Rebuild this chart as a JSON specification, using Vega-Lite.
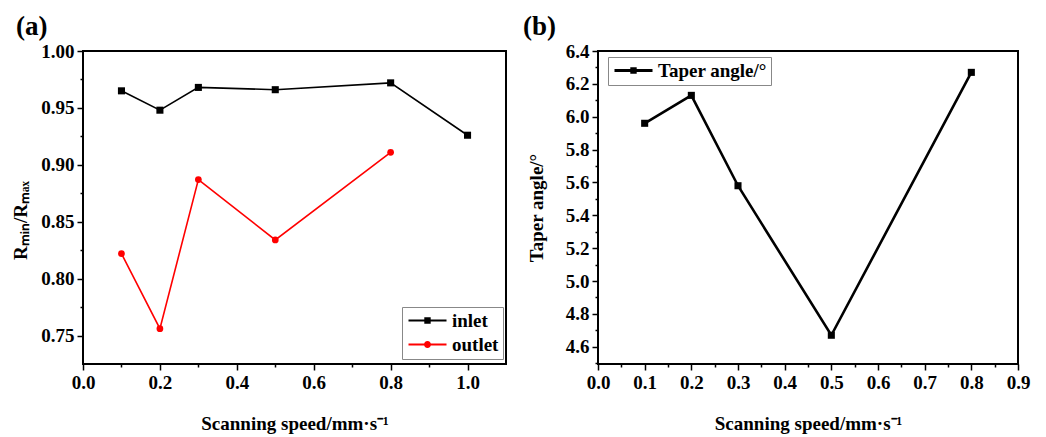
{
  "$schema": "https://vega.github.io/schema/vega-lite/v6.json",
  "background": "white",
  "padding": {"left": 10, "top": 12, "right": 5, "bottom": 5},
  "spacing": 15,
  "resolve": {"scale": {"color": "independent", "shape": "independent"}, "legend": {"color": "independent", "shape": "independent"}},
  "config": {
    "font": "Liberation Serif",
    "view": {"stroke": "black", "strokeWidth": 2},
    "axis": {
      "labelFont": "Liberation Serif", "labelFontWeight": "bold", "labelFontSize": 19, "labelColor": "black",
      "titleFont": "Liberation Serif", "titleFontWeight": "bold", "titleFontSize": 19, "titleColor": "black",
      "domain": false, "grid": false, "tickColor": "black", "tickWidth": 1.5, "labelPadding": 3,
      "labelOverlap": false, "labelFlush": false
    },
    "legend": {
      "labelFont": "Liberation Serif", "labelFontWeight": "bold", "labelFontSize": 19, "labelColor": "black",
      "strokeColor": "#888888", "fillColor": "white", "padding": 4, "symbolStrokeWidth": 0, "symbolOpacity": 1,
      "labelOffset": 27, "symbolSize": 196, "rowPadding": 4
    }
  },
  "datasets": {
    "ratio": [
      {"speed": 0.1, "ratio": 0.965, "position": "inlet"},
      {"speed": 0.2, "ratio": 0.948, "position": "inlet"},
      {"speed": 0.3, "ratio": 0.968, "position": "inlet"},
      {"speed": 0.5, "ratio": 0.966, "position": "inlet"},
      {"speed": 0.8, "ratio": 0.972, "position": "inlet"},
      {"speed": 1.0, "ratio": 0.926, "position": "inlet"},
      {"speed": 0.1, "ratio": 0.822, "position": "outlet"},
      {"speed": 0.2, "ratio": 0.756, "position": "outlet"},
      {"speed": 0.3, "ratio": 0.887, "position": "outlet"},
      {"speed": 0.5, "ratio": 0.834, "position": "outlet"},
      {"speed": 0.8, "ratio": 0.911, "position": "outlet"}
    ],
    "taper": [
      {"speed": 0.1, "angle": 5.96, "series": "Taper angle/°"},
      {"speed": 0.2, "angle": 6.13, "series": "Taper angle/°"},
      {"speed": 0.3, "angle": 5.58, "series": "Taper angle/°"},
      {"speed": 0.5, "angle": 4.67, "series": "Taper angle/°"},
      {"speed": 0.8, "angle": 6.27, "series": "Taper angle/°"}
    ]
  },
  "hconcat": [
    {
      "width": 423, "height": 313,
      "title": {"text": "(a)", "anchor": "start", "frame": "group", "dx": -67, "offset": 1, "fontSize": 27, "font": "Liberation Serif", "fontWeight": "bold", "color": "black"},
      "data": {"name": "ratio"},
      "encoding": {
        "x": {"field": "speed", "type": "quantitative",
          "scale": {"domain": [0, 1.1], "nice": false, "zero": false},
          "axis": {"title": "Scanning speed/mm·s⁻¹", "titlePadding": 22,
            "values": [0, 0.1, 0.2, 0.3, 0.4, 0.5, 0.6, 0.7, 0.8, 0.9, 1.0],
            "labelExpr": "round(datum.value*10)%2==0 ? format(datum.value, '.1f') : ''",
            "tickSize": {"condition": {"test": "round(datum.value*10)%2==0", "value": 6}, "value": 3}}},
        "y": {"field": "ratio", "type": "quantitative",
          "scale": {"domain": [0.725, 1.0], "nice": false, "zero": false},
          "axis": {"title": "Rₘᵢₙ/Rₘₐₓ", "titlePadding": 10, "titleY": 169,
            "values": [0.75, 0.775, 0.8, 0.825, 0.85, 0.875, 0.9, 0.925, 0.95, 0.975, 1.0],
            "labelExpr": "abs(datum.value*20 - round(datum.value*20)) < 0.01 ? format(datum.value, '.2f') : ''",
            "tickSize": {"condition": {"test": "abs(datum.value*20 - round(datum.value*20)) < 0.01", "value": 6}, "value": 3}}}
      },
      "layer": [
        {"transform": [{"filter": "datum.position == 'inlet'"}],
         "mark": {"type": "line", "strokeWidth": 1.6, "color": "#000000"}},
        {"transform": [{"filter": "datum.position == 'outlet'"}],
         "mark": {"type": "line", "strokeWidth": 1.6, "color": "#ff0000"}},
        {"transform": [{"filter": "datum.position == 'inlet'"}],
         "mark": {"type": "point", "shape": "square", "filled": true, "size": 50, "opacity": 1, "color": "#000000"}},
        {"transform": [{"filter": "datum.position == 'outlet'"}],
         "mark": {"type": "point", "shape": "circle", "filled": true, "size": 45, "opacity": 1, "color": "#ff0000"}},
        {"mark": {"type": "point", "filled": true, "opacity": 0},
         "encoding": {
           "color": {"field": "position", "type": "nominal",
             "scale": {"domain": ["inlet", "outlet"], "range": ["#000000", "#ff0000"]},
             "legend": {"title": null, "orient": "none", "legendX": 319, "legendY": 256}},
           "shape": {"field": "position", "type": "nominal",
             "scale": {"domain": ["inlet", "outlet"], "range": [
               "M-1,-0.157H4.43V0.157H-1Z M1.257,-0.457H2.171V0.457H1.257Z",
               "M-1,-0.157H4.43V0.157H-1Z M2.214,0A0.5,0.5 0 1,1 1.214,0A0.5,0.5 0 1,1 2.214,0Z"]},
             "legend": {"title": null, "orient": "none", "legendX": 319, "legendY": 256}}
         }}
      ]
    },
    {
      "width": 420, "height": 313,
      "title": {"text": "(b)", "anchor": "start", "frame": "group", "dx": -75, "offset": 1, "fontSize": 27, "font": "Liberation Serif", "fontWeight": "bold", "color": "black"},
      "data": {"name": "taper"},
      "encoding": {
        "x": {"field": "speed", "type": "quantitative",
          "scale": {"domain": [0, 0.9], "nice": false, "zero": false},
          "axis": {"title": "Scanning speed/mm·s⁻¹", "titlePadding": 22,
            "values": [0, 0.05, 0.1, 0.15, 0.2, 0.25, 0.3, 0.35, 0.4, 0.45, 0.5, 0.55, 0.6, 0.65, 0.7, 0.75, 0.8, 0.85, 0.9],
            "labelExpr": "abs(datum.value*10 - round(datum.value*10)) < 0.01 ? format(datum.value, '.1f') : ''",
            "tickSize": {"condition": {"test": "abs(datum.value*10 - round(datum.value*10)) < 0.01", "value": 6}, "value": 3}}},
        "y": {"field": "angle", "type": "quantitative",
          "scale": {"domain": [4.495, 6.4], "nice": false, "zero": false},
          "axis": {"title": "Taper angle/°", "titlePadding": 19,
            "values": [4.5, 4.6, 4.7, 4.8, 4.9, 5.0, 5.1, 5.2, 5.3, 5.4, 5.5, 5.6, 5.7, 5.8, 5.9, 6.0, 6.1, 6.2, 6.3, 6.4],
            "labelExpr": "round(datum.value*10)%2==0 ? format(datum.value, '.1f') : ''",
            "tickSize": {"condition": {"test": "round(datum.value*10)%2==0", "value": 6}, "value": 3}}}
      },
      "layer": [
        {"mark": {"type": "line", "strokeWidth": 2.6, "color": "black"}},
        {"mark": {"type": "point", "shape": "square", "filled": true, "size": 50, "opacity": 1, "color": "black"}},
        {"mark": {"type": "point", "filled": true, "opacity": 0},
         "encoding": {
           "color": {"field": "series", "type": "nominal",
             "scale": {"domain": ["Taper angle/°"], "range": ["#000000"]},
             "legend": {"title": null, "orient": "none", "legendX": 10, "legendY": 6}},
           "shape": {"field": "series", "type": "nominal",
             "scale": {"domain": ["Taper angle/°"], "range": [
               "M-1,-0.2H4.43V0.2H-1Z M1.257,-0.457H2.171V0.457H1.257Z"]},
             "legend": {"title": null, "orient": "none", "legendX": 10, "legendY": 6}}
         }}
      ]
    }
  ]
}
